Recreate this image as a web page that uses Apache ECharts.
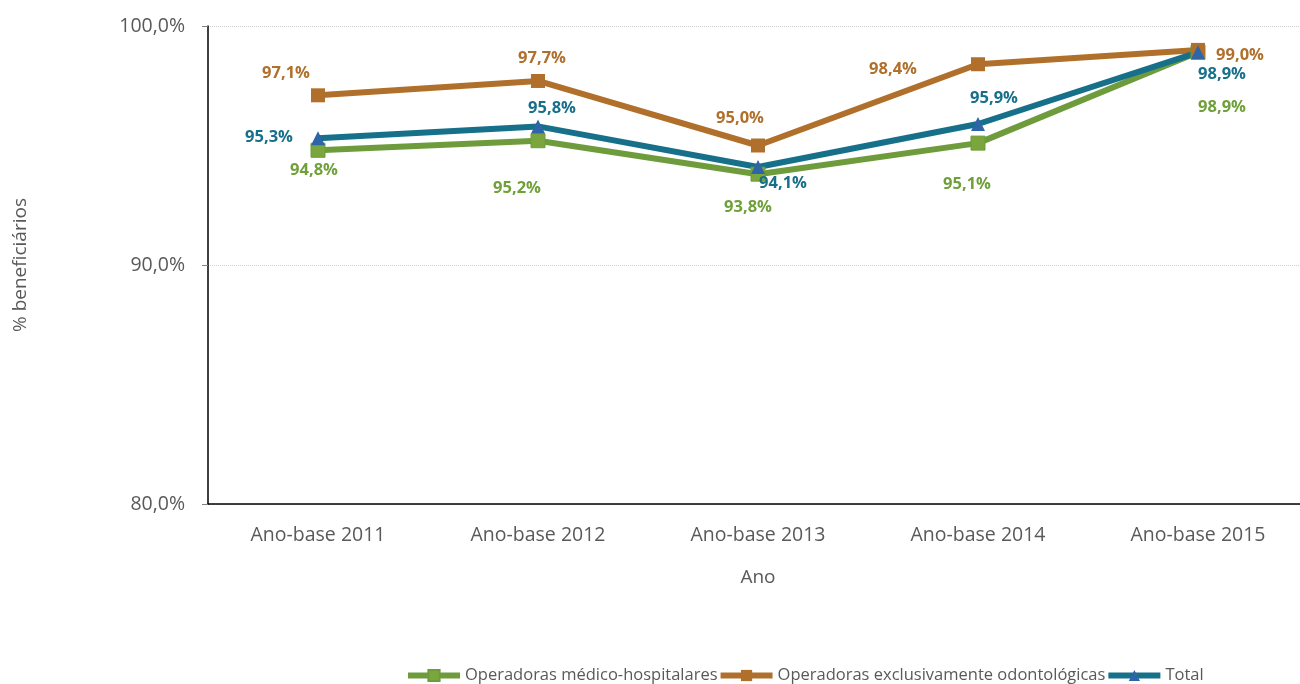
<!DOCTYPE html>
<html>
<head>
<meta charset="utf-8">
<script src="https://cdn.jsdelivr.net/npm/echarts@6/dist/echarts.min.js"></script>
<style>
html,body{margin:0;padding:0;background:#fff;}
#main{width:1300px;height:684px;}
</style>
</head>
<body>
<div id="main"></div>
<script>
var categories = ['Ano-base 2011', 'Ano-base 2012', 'Ano-base 2013', 'Ano-base 2014', 'Ano-base 2015'];
var medHosp = [94.8, 95.2, 93.8, 95.1, 98.9];
var odonto = [97.1, 97.7, 95.0, 98.4, 99.0];
var total = [95.3, 95.8, 94.1, 95.9, 98.9];
var yTicks = [80, 90, 100];

(function () {
    "use strict";
    var font = '"Open Sans", "Noto Sans", sans-serif';
    function pct(v) { return v.toFixed(1).replace('.', ',') + '%'; }

    // label offsets per point, [dx, dy] from the marker
    var offMed = [[-4, 20], [-21, 48], [-10, 33], [-11, 41], [24, 55]];
    var offOdo = [[-32, -22], [4, -23], [-18, -27], [-85, 5], [42, 5]];
    var offTot = [[-49, -1], [14, -18], [25, 16], [16, -26], [24, 22]];

    function items(vals, offs) {
        return vals.map(function (v, i) {
            return { value: v, label: { offset: offs[i] } };
        });
    }

    function lbl(color) {
        return {
            show: true,
            position: 'inside',
            color: color,
            fontFamily: font,
            fontWeight: 'bold',
            fontSize: 16.5,
            formatter: function (p) { return pct(p.value); }
        };
    }

    var myChart = echarts.init(document.getElementById('main'));
    var option = {
        animation: false,
        grid: { left: 208, width: 1100, top: 26, bottom: 180, outerBoundsMode: 'none' },
        legend: {
            top: 662,
            left: 400,
            itemWidth: 52,
            itemHeight: 14,
            itemGap: 0,
            lineStyle: { width: 6 },
            textStyle: { color: '#595959', fontFamily: font, fontSize: 16.5 },
            data: ['Operadoras médico-hospitalares', 'Operadoras exclusivamente odontológicas', 'Total']
        },
        xAxis: {
            type: 'category',
            data: categories,
            name: 'Ano',
            nameLocation: 'middle',
            nameGap: 64,
            nameTextStyle: { color: '#595959', fontFamily: font, fontSize: 19 },
            axisLine: { lineStyle: { color: '#000', width: 1.5 } },
            axisTick: { lineStyle: { color: '#808080' }, length: 6 },
            axisLabel: { color: '#595959', fontFamily: font, fontSize: 19.5, margin: 21 }
        },
        yAxis: {
            type: 'value',
            min: yTicks[0],
            max: yTicks[yTicks.length - 1],
            interval: 10,
            name: '% beneficiários',
            nameLocation: 'middle',
            nameGap: 178,
            nameTextStyle: { color: '#595959', fontFamily: font, fontSize: 19 },
            axisLine: { show: true, lineStyle: { color: '#000', width: 1.5 } },
            axisTick: { show: true, length: 6, lineStyle: { color: '#808080' } },
            axisLabel: { color: '#595959', fontFamily: font, fontSize: 19.5, margin: 23, formatter: pct },
            splitLine: { lineStyle: { color: '#d0d0d0', type: 'dotted' } }
        },
        series: [
            {
                name: 'Operadoras médico-hospitalares',
                type: 'line',
                data: items(medHosp, offMed),
                symbol: 'rect',
                symbolSize: 14,
                lineStyle: { color: '#6E9C3C', width: 6 },
                itemStyle: { color: '#7BA63E', borderColor: '#6E9C3C', borderWidth: 1 },
                label: lbl('#70A03A')
            },
            {
                name: 'Operadoras exclusivamente odontológicas',
                type: 'line',
                data: items(odonto, offOdo),
                symbol: 'rect',
                symbolSize: 14,
                lineStyle: { color: '#B0702C', width: 6 },
                itemStyle: { color: '#B0702C' },
                label: lbl('#B0702C')
            },
            {
                name: 'Total',
                type: 'line',
                data: items(total, offTot),
                symbol: 'triangle',
                symbolSize: 14,
                lineStyle: { color: '#17708A', width: 6 },
                itemStyle: { color: '#2E64A8' },
                label: lbl('#17708A')
            }
        ]
    };
    myChart.setOption(option);
})();
</script>
</body>
</html>
